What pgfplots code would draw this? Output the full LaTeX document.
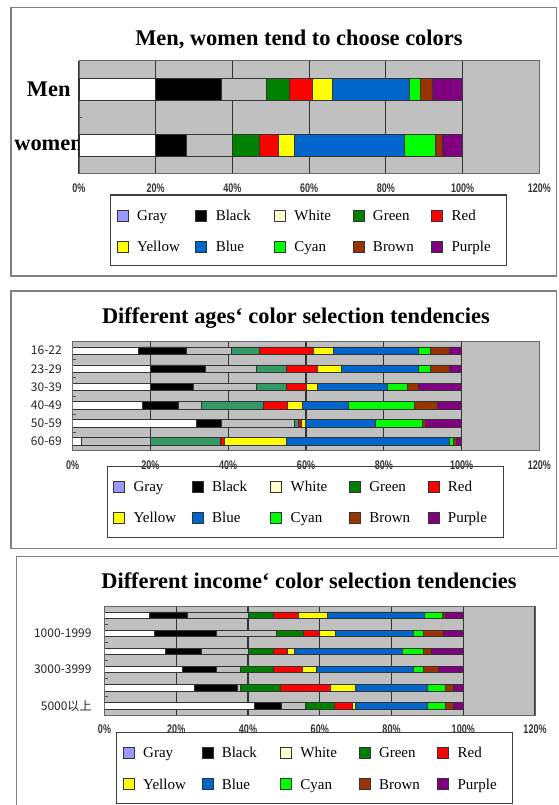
\documentclass[border=0pt]{standalone}
\usepackage{fontspec}
\usepackage{graphicx}
\setmainfont{Liberation Serif}
\newfontfamily\tickfont{Liberation Sans}
\newfontfamily\cjk{Noto Sans CJK SC}
\usepackage{pgfplots}
\usepackage{pgfplotstable}
\pgfplotsset{compat=1.18}
\definecolor{bgGray}{HTML}{C0C0C0}
\definecolor{cGreen}{HTML}{008000}
\definecolor{cSea}{HTML}{339966}
\definecolor{cRed}{HTML}{FF0000}
\definecolor{cYellow}{HTML}{FFFF00}
\definecolor{cBlue}{HTML}{0066CC}
\definecolor{cCyan}{HTML}{00FF00}
\definecolor{cBrown}{HTML}{993300}
\definecolor{cPurple}{HTML}{800080}
\definecolor{lgGray}{HTML}{9999FF}
\definecolor{lgWhite}{HTML}{FFFFCC}

\newcommand\tl[1]{\scalebox{0.72}[1]{\tickfont\bfseries\fontsize{12.5}{14}\selectfont #1}}

% Men / women
\pgfplotstableread{
y wh bk gy gr rd ye bl cy br pu
1 20 17 11.9 5.9 6.1 5.1 20 2.9 3.2 7.9
2 20 8.1 11.9 6.9 5.1 4.1 28.7 8.0 2.0 5.2
}\tabSex
% ages
\pgfplotstableread{
y wh bk gy gr rd ye bl cy br pu
1 16.9 12.3 11.6 7.2 14.0 5.1 21.9 2.9 4.9 3.2
2 20 14 13.1 7.9 7.9 6.1 20 2.9 4.9 3.2
3 20 11.1 16 7.9 5.1 2.8 18 5.2 2.9 11
4 18 9.2 5.8 16 6.1 3.9 12 16.9 5.9 6.2
5 31.8 6.4 18.7 1.0 1.0 1.0 18.0 11.9 1.0 9.2
6 2.1 0 17.9 18.0 1.0 15.9 41.9 1.1 0.8 1.3
}\tabAge
% income
\pgfplotstableread{
y wh bk gy gr rd ye bl cy br pu
1 12.5 10.5 17.1 6.9 6.9 8.1 27.1 5.0 1.0 4.9
2 13.9 17.3 16.8 7.3 4.7 4.2 21.8 3.0 5.3 5.7
3 16.9 10.1 13.1 7.0 3.8 2.1 30.1 5.9 2.2 8.8
4 21.7 9.5 6.7 9.2 8.1 3.8 27.0 3.0 4.0 7.0
5 24.9 12.2 0.7 11.2 13.9 7.1 19.9 5.2 2.0 2.9
6 41.7 7.5 6.8 8.1 4.9 1.0 19.9 5.2 2.0 2.9
}\tabInc

\pgfplotsset{
  panel/.style={
    scale only axis, anchor=south west,
    xbar stacked, xmin=0, xmax=120,
    xtick={0,20,...,120},
    xticklabels={\tl{0\%},\tl{20\%},\tl{40\%},\tl{60\%},\tl{80\%},\tl{100\%},\tl{120\%}},
    xticklabel style={text=black!80, anchor=center, yshift=-14.5pt},
    xmajorgrids, grid style={black!80, line width=1.2pt},
    axis background/.style={fill=bgGray},
    axis line style={black!60, line width=1pt},
    y dir=reverse,
    ytick pos=left, xtick pos=bottom,
    major tick length=0pt,
    yticklabel style={anchor=east, inner sep=0pt},
    extra y tick labels={},
    extra y tick style={major tick length=3pt, tick align=inside, tick style={black!70, line width=0.8pt}},
    legend columns=5,
    legend image code/.code={\draw[##1, draw=black!80, line width=0.8pt] (0pt,-5.5pt) rectangle (11pt,5.5pt);},
    legend style={anchor=north west, draw=none, fill=none, inner sep=0pt,
      font=\fontsize{15}{18}\selectfont, row sep=19.6pt, cells={anchor=west},
      nodes={inner sep=0pt, text height=10pt, text depth=0pt, text width=46pt, align=left},
      /tikz/every odd column/.append style={column sep=8.5pt},
      /tikz/every even column/.append style={column sep=12.3pt}},
  },
  seg/.style={draw=black!80, line width=0.6pt, forget plot},
}

\newcommand\allbars[2]{%
  \addplot[seg, fill=white]   table[x=wh, y=y] {#1};
  \addplot[seg, fill=black]   table[x=bk, y=y] {#1};
  \addplot[seg, fill=bgGray]  table[x=gy, y=y] {#1};
  \addplot[seg, fill=#2]      table[x=gr, y=y] {#1};
  \addplot[seg, fill=cRed]    table[x=rd, y=y] {#1};
  \addplot[seg, fill=cYellow] table[x=ye, y=y] {#1};
  \addplot[seg, fill=cBlue]   table[x=bl, y=y] {#1};
  \addplot[seg, fill=cCyan]   table[x=cy, y=y] {#1};
  \addplot[seg, fill=cBrown]  table[x=br, y=y] {#1};
  \addplot[seg, fill=cPurple] table[x=pu, y=y] {#1};
}
\newcommand\allleg{%
  \addlegendimage{fill=lgGray}\addlegendentry{Gray}
  \addlegendimage{fill=black}\addlegendentry{Black}
  \addlegendimage{fill=lgWhite}\addlegendentry{White}
  \addlegendimage{fill=cGreen}\addlegendentry{Green}
  \addlegendimage{fill=cRed}\addlegendentry{Red}
  \addlegendimage{fill=cYellow}\addlegendentry{Yellow}
  \addlegendimage{fill=cBlue}\addlegendentry{Blue}
  \addlegendimage{fill=cCyan}\addlegendentry{Cyan}
  \addlegendimage{fill=cBrown}\addlegendentry{Brown}
  \addlegendimage{fill=cPurple}\addlegendentry{Purple}
}

\begin{document}
\begin{tikzpicture}[x=1pt,y=1pt]
\useasboundingbox (0,0) rectangle (558,805);
\fill[white] (0,0) rectangle (558,805);
% panel frames
\draw[black!50, line width=1.5pt] (11,529) rectangle (556.5,797.7);
\draw[black!50, line width=1.5pt] (11,256.7) rectangle (556.5,514);
\draw[black!50, line width=1.5pt] (16.7,-5) rectangle (562,248.7);

% titles
\node[anchor=base, inner sep=0pt, font=\fontsize{22.4}{26}\selectfont\bfseries] at (298.9,759) {Men, women tend to choose colors};
\node[anchor=base, inner sep=0pt, font=\fontsize{22.4}{26}\selectfont\bfseries] at (295.9,481.7) {Different ages‘ color selection tendencies};
\node[anchor=base, inner sep=0pt, font=\fontsize{22.4}{26}\selectfont\bfseries] at (308.9,216.7) {Different income‘ color selection tendencies};

% panel 1
\begin{axis}[panel, at={(79pt,631pt)}, width=460.3pt, height=113.3pt,
  ymin=0.5, ymax=2.5, bar width=22pt, ytick={1,2},
  yticklabels={{\fontsize{22.4}{26}\selectfont\bfseries Men},{\fontsize{22.4}{26}\selectfont\bfseries women\kern-12.3pt}},
  yticklabel style={xshift=-8.3pt},
  extra y ticks={1.5},
  legend style={at={(0.0819,-0.3133)}}]
\allbars{\tabSex}{cGreen}
\allleg
\end{axis}

% panel 2
\begin{axis}[panel, at={(72.7pt,354.5pt)}, width=466.6pt, height=109pt,
  ymin=0.5, ymax=6.5, bar width=7.5pt, ytick={1,2,3,4,5,6},
  yticklabels={16-22,23-29,30-39,40-49,50-59,60-69},
  yticklabel style={font=\cjk\fontsize{12}{14}\selectfont, text=black!85, xshift=-10.7pt},
  extra y ticks={1.5,2.5,3.5,4.5,5.5},
  legend style={at={(0.0864,-0.2752)}}]
\allbars{\tabAge}{cSea}
\allleg
\end{axis}

% panel 3
\begin{axis}[panel, at={(104.5pt,90pt)}, width=430.5pt, height=109pt,
  ymin=0.5, ymax=6.5, bar width=6.3pt, ytick={1,2,3,4,5,6},
  yticklabels={,1000-1999,,3000-3999,,5000以上},
  yticklabel style={font=\cjk\fontsize{12}{14}\selectfont, text=black!85, xshift=-12.8pt},
  extra y ticks={1.5,2.5,3.5,4.5,5.5},
  legend style={at={(0.0423,-0.2917)}}]
\allbars{\tabInc}{cGreen}
\allleg
\end{axis}

% legend frames
\draw[black!75, line width=1.2pt] (110.7,539.3) rectangle (506.7,610);
\draw[black!75, line width=1.2pt] (107.3,267.7) rectangle (503.3,338.3);
\draw[black!75, line width=1.2pt] (116.7,1.7) rectangle (512.3,72.3);
\end{tikzpicture}
\end{document}
